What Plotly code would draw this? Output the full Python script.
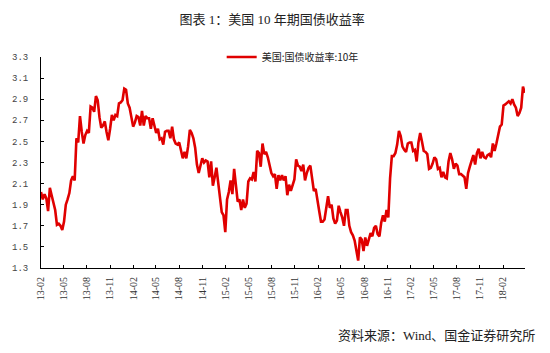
import pandas as pd
import plotly.graph_objects as go

# Weekly (Friday) observations, 2013-02-01 .. 2018-04-27
start_date = "2013-02-01"
end_date = "2018-04-27"

y2013 = [2.02, 1.95, 2.00, 1.96,
         1.84, 2.06, 1.99, 1.93, 1.85,
         1.71, 1.72, 1.70, 1.66,
         1.74, 1.90, 1.95, 2.01, 2.13,
         2.17, 2.13, 2.53, 2.49,
         2.74, 2.59, 2.48, 2.56,
         2.60, 2.58, 2.83, 2.82, 2.78,
         2.93, 2.89, 2.73, 2.63,
         2.65, 2.69, 2.59, 2.51,
         2.62, 2.75, 2.70, 2.75, 2.74,
         2.86, 2.87, 2.89, 3.00]
y2014 = [2.99, 2.86, 2.82, 2.73, 2.64,
         2.68, 2.74, 2.73, 2.65,
         2.79, 2.65, 2.74, 2.72,
         2.72, 2.62, 2.72, 2.66,
         2.58, 2.62, 2.52, 2.53, 2.47,
         2.59, 2.60, 2.60, 2.53,
         2.64, 2.52, 2.48, 2.47,
         2.49, 2.42, 2.34, 2.40, 2.34,
         2.45, 2.61, 2.58, 2.53,
         2.44, 2.28, 2.20, 2.27, 2.34,
         2.30, 2.32, 2.31, 2.16,
         2.31, 2.08, 2.16, 2.25]
y2015 = [2.11, 1.95, 1.83, 1.80, 1.64,
         1.95, 2.02, 2.13, 2.00,
         2.24, 2.11, 1.93, 1.95,
         1.85, 1.95, 1.87, 1.91,
         2.12, 2.15, 2.14, 2.21, 2.12,
         2.41, 2.39, 2.26, 2.48,
         2.38, 2.40, 2.35, 2.26, 2.20,
         2.17, 2.19, 2.05, 2.18,
         2.13, 2.18, 2.13, 2.17,
         1.99, 2.09, 2.03, 2.08, 2.14,
         2.33, 2.27, 2.26, 2.22,
         2.28, 2.13, 2.20, 2.25]
y2016 = [2.27, 2.12, 2.03, 2.05, 1.92,
         1.84, 1.74, 1.74, 1.76,
         1.88, 1.98, 1.87, 1.90,
         1.77, 1.72, 1.75, 1.89, 1.83,
         1.78, 1.70, 1.85, 1.85,
         1.70, 1.64, 1.61, 1.56,
         1.44, 1.37, 1.59, 1.57, 1.46,
         1.59, 1.51, 1.58, 1.63,
         1.60, 1.68, 1.70, 1.62, 1.60,
         1.73, 1.80, 1.74, 1.85,
         1.78, 2.15, 2.36, 2.36,
         2.39, 2.47, 2.60, 2.55, 2.45]
y2017 = [2.42, 2.40, 2.48, 2.49,
         2.49, 2.41, 2.42, 2.31,
         2.49, 2.58, 2.50, 2.41, 2.40,
         2.38, 2.24, 2.25, 2.29,
         2.35, 2.33, 2.24, 2.25,
         2.16, 2.21, 2.16, 2.15, 2.31,
         2.39, 2.33, 2.24, 2.29,
         2.27, 2.19, 2.19, 2.17,
         2.16, 2.05, 2.20, 2.26, 2.33,
         2.37, 2.28, 2.39, 2.43,
         2.34, 2.40, 2.35, 2.34,
         2.37, 2.38, 2.35, 2.48, 2.41]
y2018 = [2.48, 2.55, 2.64, 2.66,
         2.84, 2.85, 2.87, 2.88,
         2.86, 2.90, 2.85, 2.82, 2.74,
         2.77, 2.82, 3.02, 2.96]

yields = y2013 + y2014 + y2015 + y2016 + y2017 + y2018
dates = pd.date_range(start_date, end_date, freq="W-FRI")
assert len(dates) == len(yields), (len(dates), len(yields))

tick_dates = ["2013-02-01", "2013-05-01", "2013-08-01", "2013-11-01",
              "2014-02-01", "2014-05-01", "2014-08-01", "2014-11-01",
              "2015-02-01", "2015-05-01", "2015-08-01", "2015-11-01",
              "2016-02-01", "2016-05-01", "2016-08-01", "2016-11-01",
              "2017-02-01", "2017-05-01", "2017-08-01", "2017-11-01",
              "2018-02-01"]
tick_labels = ["13-02", "13-05", "13-08", "13-11",
               "14-02", "14-05", "14-08", "14-11",
               "15-02", "15-05", "15-08", "15-11",
               "16-02", "16-05", "16-08", "16-11",
               "17-02", "17-05", "17-08", "17-11",
               "18-02"]
y_ticks = [1.3, 1.5, 1.7, 1.9, 2.1, 2.3, 2.5, 2.7, 2.9, 3.1, 3.3]

series_name = "美国:国债收益率:10年"
title_text = "图表 1：美国 10 年期国债收益率"
source_text = "资料来源：Wind、国金证券研究所"

cjk = "Liberation Serif, Noto Sans CJK SC, sans-serif"

fig = go.Figure()
fig.add_trace(go.Scatter(
    x=dates, y=yields, mode="lines", name=series_name,
    line=dict(color="#E00000", width=2.6),
))

fig.update_layout(
    width=550, height=353,
    margin=dict(l=38, r=25, t=57, b=85),
    paper_bgcolor="white", plot_bgcolor="white",
    title=dict(text=title_text, xref="container", yref="container",
               x=0.495, y=0.946, xanchor="center", yanchor="middle",
               font=dict(family=cjk, size=13, color="#222")),
    showlegend=True,
    legend=dict(orientation="h", x=0.52, y=1.0, xanchor="center", yanchor="middle",
                bgcolor="rgba(0,0,0,0)", itemwidth=30,
                font=dict(family="Noto Sans CJK SC", size=10, color="#222")),
    xaxis=dict(
        type="date", range=["2013-02-01", "2018-04-28"],
        tickmode="array", tickvals=tick_dates, ticktext=tick_labels,
        tickangle=-90, ticks="inside", ticklen=3, tickcolor="#000",
        ticklabelstandoff=4,
        showline=True, linecolor="#000", linewidth=1,
        showgrid=False, zeroline=False,
        tickfont=dict(family="Liberation Serif", size=10, color="#333"),
    ),
    yaxis=dict(
        range=[1.3, 3.3], tickmode="array", tickvals=y_ticks,
        ticktext=[f"{v:.1f}" for v in y_ticks],
        ticks="inside", ticklen=3, tickcolor="#000",
        ticklabelstandoff=10,
        showline=True, linecolor="#000", linewidth=1,
        showgrid=False, zeroline=False,
        tickfont=dict(family="Liberation Mono", size=9, color="#444"),
    ),
)

fig.add_annotation(text=source_text, xref="paper", yref="paper",
                   x=1.0246, y=-0.322, xanchor="right", yanchor="middle",
                   showarrow=False,
                   font=dict(family=cjk, size=13, color="#222"))

fig.write_html("out.html")
